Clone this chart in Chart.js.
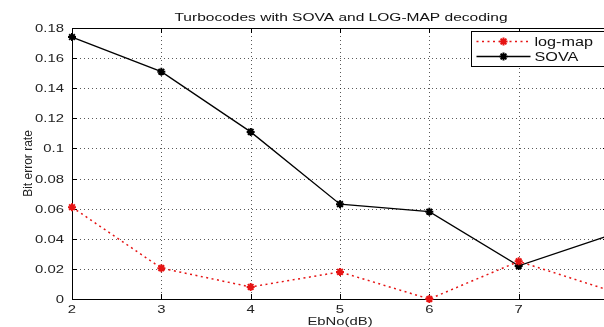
<!DOCTYPE html>
<html>
<head>
<meta charset="utf-8">
<script src="https://cdn.jsdelivr.net/npm/chart.js@4.4.0/dist/chart.umd.min.js"></script>
<style>
  html, body { margin: 0; padding: 0; background: #fff; overflow: hidden; width: 604px; height: 327px; }
  #wrap { position: absolute; left: 0; top: 0; width: 620px; height: 335px; }
</style>
</head>
<body>
<div id="wrap"><canvas id="chart"></canvas></div>
<script>
// values
const ebNoDb = [2, 3, 4, 5, 6, 7, 8];
const sovaBer = [0.174, 0.151, 0.111, 0.063, 0.058, 0.022, 0.042];
const logMapBer = [0.061, 0.0205, 0.008, 0.018, 0.0, 0.025, 0.006];
const xTickValues = [2, 3, 4, 5, 6, 7, 8];
const yTickValues = [0, 0.02, 0.04, 0.06, 0.08, 0.1, 0.12, 0.14, 0.16, 0.18];
const yTickLabels = ['0', '0.02', '0.04', '0.06', '0.08', '0.1', '0.12', '0.14', '0.16', '0.18'];
const seriesNames = ['log-map', 'SOVA'];
const titleText = 'Turbocodes with SOVA and LOG-MAP decoding';
const xTitle = 'EbNo(dB)';
const yTitle = 'Bit error rate';

// the reference text looks stretched sideways
const SX = 1.35;
const FONT = '"Liberation Sans", Arial, sans-serif';

function wideText(ctx, text, x, y, opts) {
  ctx.save();
  ctx.translate(x, y);
  if (opts.rotate) ctx.rotate(opts.rotate);
  else ctx.scale(SX, 1);
  ctx.font = opts.font;
  ctx.fillStyle = opts.color || '#222';
  ctx.textAlign = opts.align || 'left';
  ctx.textBaseline = opts.baseline || 'alphabetic';
  ctx.fillText(text, 0, 0);
  ctx.restore();
}

function star(ctx, x, y, r, color) {
  ctx.save();
  ctx.strokeStyle = color;
  ctx.lineWidth = 2;
  ctx.beginPath();
  ctx.moveTo(x - r, y); ctx.lineTo(x + r, y);
  ctx.moveTo(x, y - r); ctx.lineTo(x, y + r);
  const d = r * 0.72;
  ctx.moveTo(x - d, y - d); ctx.lineTo(x + d, y + d);
  ctx.moveTo(x - d, y + d); ctx.lineTo(x + d, y - d);
  ctx.stroke();
  ctx.restore();
}

const matlabLook = {
  id: 'matlabLook',
  beforeDatasetsDraw(chart) {
    const { ctx, chartArea: a, scales } = chart;
    ctx.save();
    // dotted grid
    ctx.strokeStyle = 'rgba(0,0,0,0.65)';
    ctx.lineWidth = 1;
    ctx.setLineDash([1, 3]);
    ctx.beginPath();
    xTickValues.forEach(v => {
      const px = Math.round(scales.x.getPixelForValue(v)) + 0.5;
      ctx.moveTo(px, a.top); ctx.lineTo(px, a.bottom);
    });
    yTickValues.forEach(v => {
      const py = Math.round(scales.y.getPixelForValue(v)) + 0.5;
      ctx.moveTo(a.left, py); ctx.lineTo(a.right, py);
    });
    ctx.stroke();
    ctx.setLineDash([]);
    // axes box
    ctx.strokeStyle = '#000';
    ctx.beginPath();
    ctx.moveTo(a.left + 0.5, a.top + 0.5);
    ctx.lineTo(a.right + 0.5, a.top + 0.5);
    ctx.lineTo(a.right + 0.5, a.bottom + 0.5);
    ctx.lineTo(a.left + 0.5, a.bottom + 0.5);
    ctx.closePath();
    // inward tick marks
    xTickValues.forEach(v => {
      const px = Math.round(scales.x.getPixelForValue(v)) + 0.5;
      ctx.moveTo(px, a.top); ctx.lineTo(px, a.top + 5);
      ctx.moveTo(px, a.bottom); ctx.lineTo(px, a.bottom - 5);
    });
    yTickValues.forEach(v => {
      const py = Math.round(scales.y.getPixelForValue(v)) + 0.5;
      ctx.moveTo(a.left, py); ctx.lineTo(a.left + 5, py);
      ctx.moveTo(a.right, py); ctx.lineTo(a.right - 5, py);
    });
    ctx.stroke();
    ctx.restore();
  },
  afterDraw(chart) {
    const { ctx, chartArea: a, scales } = chart;
    const tickFont = '11px ' + FONT;
    yTickValues.forEach((v, i) => {
      wideText(ctx, yTickLabels[i], a.left - 8, scales.y.getPixelForValue(v) + 4, { font: tickFont, align: 'right' });
    });
    xTickValues.forEach(v => {
      wideText(ctx, String(v), scales.x.getPixelForValue(v), a.bottom + 14, { font: tickFont, align: 'center' });
    });
    wideText(ctx, titleText, (a.left + a.right) / 2 + 1, 21, { font: '11.5px ' + FONT, align: 'center', color: '#111' });
    wideText(ctx, xTitle, (a.left + a.right) / 2, a.bottom + 26, { font: '11px ' + FONT, align: 'center' });
    wideText(ctx, yTitle, 29, (a.top + a.bottom) / 2, { font: '12px ' + FONT, align: 'center', baseline: 'middle', rotate: -Math.PI / 2 });

    // legend box, top right inside the axes
    const bx = 471.5, by = 31.5, bw = 140, bh = 35;
    ctx.save();
    ctx.fillStyle = '#fff';
    ctx.fillRect(bx, by, bw, bh);
    ctx.strokeStyle = '#000';
    ctx.lineWidth = 1;
    ctx.strokeRect(bx, by, bw, bh);
    const rows = [
      { name: seriesNames[0], color: 'rgb(230,20,20)', dash: [2, 3.5], y: by + 10 },
      { name: seriesNames[1], color: '#000', dash: [], y: by + 25 }
    ];
    rows.forEach(r => {
      ctx.beginPath();
      ctx.strokeStyle = r.color;
      ctx.lineWidth = 1.5;
      ctx.setLineDash(r.dash);
      ctx.moveTo(bx + 5, r.y);
      ctx.lineTo(bx + 59, r.y);
      ctx.stroke();
      ctx.setLineDash([]);
      star(ctx, bx + 32, r.y, 4, r.color);
      wideText(ctx, r.name, bx + 63, r.y + 4.5, { font: '12px ' + FONT, color: '#111' });
    });
    ctx.restore();
  }
};

const toPoints = ys => ebNoDb.map((x, i) => ({ x: x, y: ys[i] }));

new Chart(document.getElementById('chart'), {
  type: 'line',
  data: {
    datasets: [{
      label: seriesNames[0],
      data: toPoints(logMapBer),
      borderColor: 'rgb(230,20,20)',
      backgroundColor: 'rgb(230,20,20)',
      borderWidth: 1.5,
      borderDash: [2, 3.5],
      pointStyle: 'star',
      pointRadius: 4,
      pointBorderWidth: 2,
      tension: 0,
      clip: false
    }, {
      label: seriesNames[1],
      data: toPoints(sovaBer),
      borderColor: '#000',
      backgroundColor: '#000',
      borderWidth: 1.3,
      pointStyle: 'star',
      pointRadius: 4,
      pointBorderWidth: 2,
      tension: 0,
      clip: false
    }]
  },
  options: {
    animation: false,
    responsive: true,
    maintainAspectRatio: false,
    layout: { padding: { top: 28, right: 12, left: 0, bottom: 0 } },
    plugins: { legend: { display: false }, tooltip: { enabled: false }, title: { display: false } },
    scales: {
      x: {
        type: 'linear',
        min: 2,
        max: 8,
        afterBuildTicks: s => { s.ticks = xTickValues.map(v => ({ value: v })); },
        afterFit: s => { s.height = 36; },
        ticks: { display: false },
        border: { display: false },
        grid: { display: false }
      },
      y: {
        type: 'linear',
        min: 0,
        max: 0.18,
        afterBuildTicks: s => { s.ticks = yTickValues.map(v => ({ value: v })); },
        afterFit: s => { s.width = 72; },
        ticks: { display: false },
        border: { display: false },
        grid: { display: false }
      }
    }
  },
  plugins: [matlabLook]
});
</script>
</body>
</html>
